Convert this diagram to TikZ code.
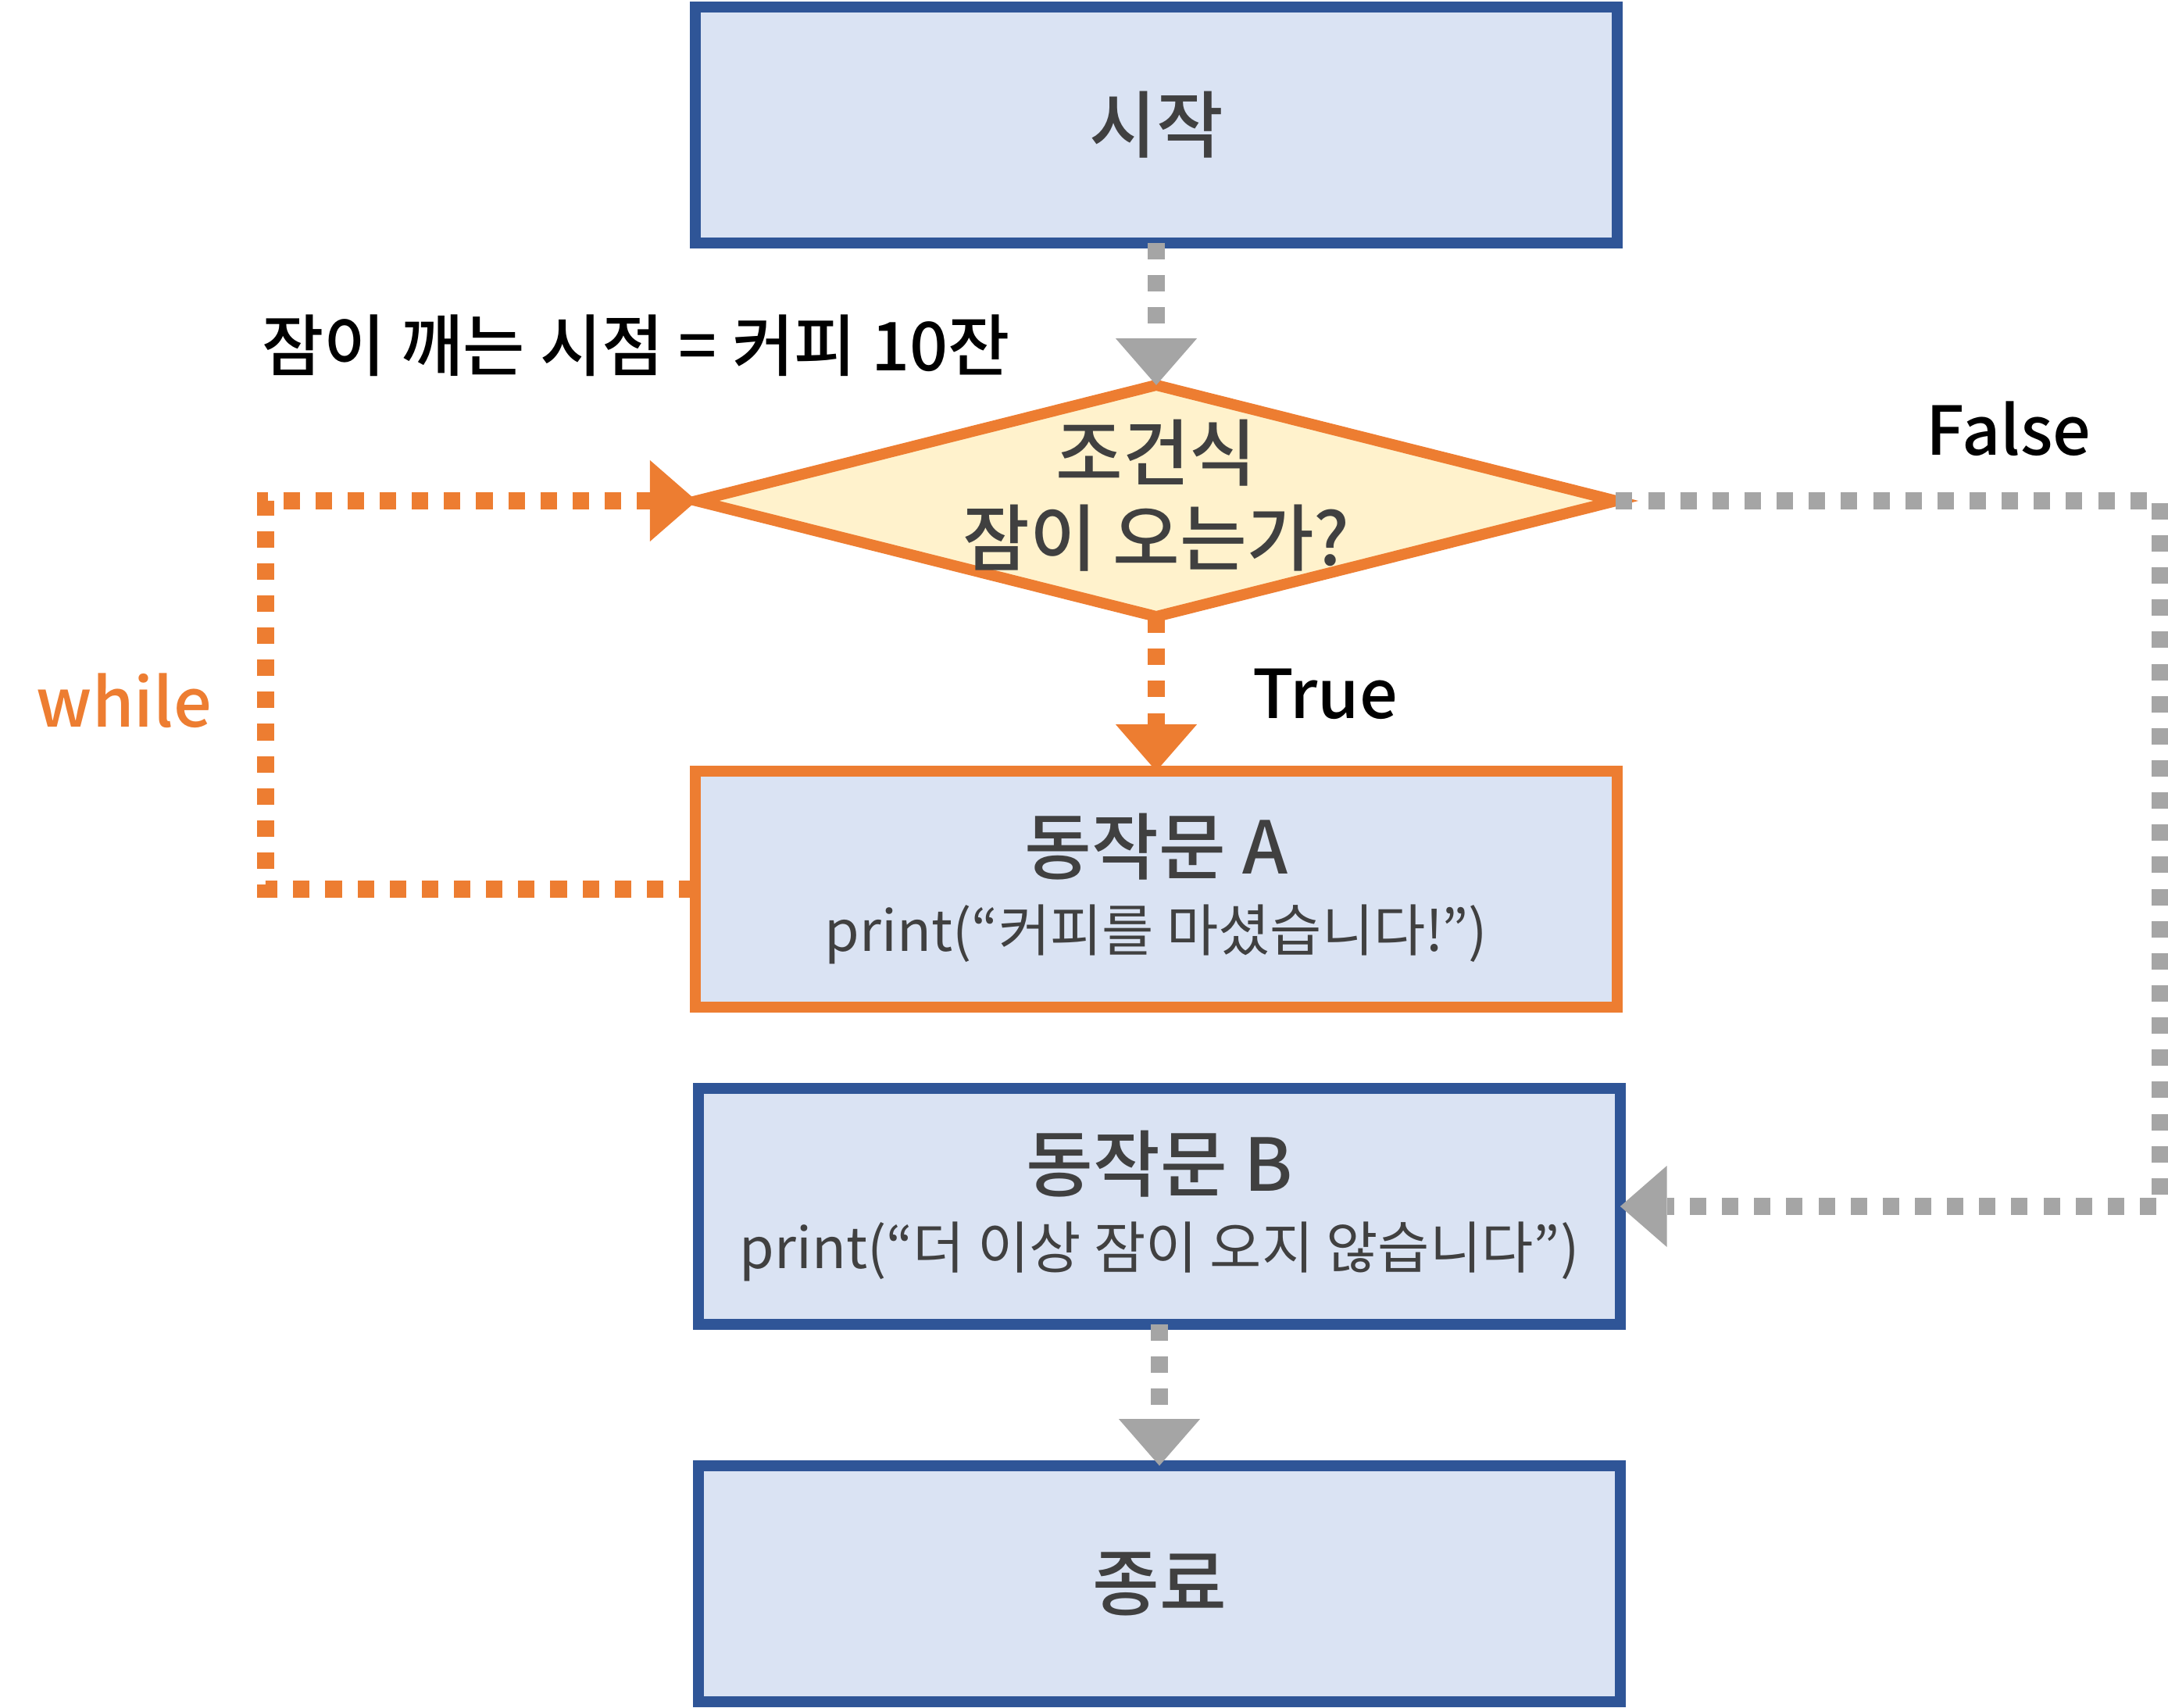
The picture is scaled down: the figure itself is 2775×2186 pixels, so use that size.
\documentclass[tikz,border=0pt]{standalone}
\usepackage{fontspec}
\setmainfont{Noto Sans CJK KR}[BoldFont={Noto Sans CJK KR Medium}]
\usetikzlibrary{shapes.geometric,arrows.meta}
\definecolor{boxblue}{HTML}{2F5597}
\definecolor{boxfill}{HTML}{DAE3F3}
\definecolor{accent}{HTML}{ED7D31}
\definecolor{condfill}{HTML}{FFF2CC}
\definecolor{flowgray}{HTML}{A5A5A5}
\definecolor{textgray}{HTML}{404040}
\newcommand{\ttlsize}{\fontsize{26.5pt}{31pt}\selectfont\bfseries}
\newcommand{\codesize}{\fontsize{20.5pt}{25pt}\selectfont}
\begin{document}
\begin{tikzpicture}[x=0.01cm,y=-0.01cm,
  box/.style={draw=boxblue,fill=boxfill,line width=4pt,minimum width=11.79cm,minimum height=3.02cm,inner sep=0pt,outer sep=0pt,align=center,text=textgray},
  titlefont/.style={font=\ttlsize},
  labelfont/.style={font=\fontsize{24.5pt}{30pt}\selectfont\bfseries,inner sep=0pt},
  flow/.style={line width=6pt,line cap=butt,dash pattern=on 6pt off 5.7pt,-{Triangle[length=17pt,width=29.6pt,line width=0pt]}},
  grayflow/.style={flow,draw=flowgray},
  orangeflow/.style={flow,draw=accent}
]
\useasboundingbox (0,0) rectangle (2775,2186);

\node[box,titlefont] (start) at (1480,160) {시작};
\node[diamond,draw=accent,fill=condfill,line width=4pt,minimum width=11.76cm,minimum height=2.96cm,aspect=3.97,inner sep=0pt,outer sep=0pt] (cond) at (1480,641) {};
\node[titlefont,text=textgray,align=center,inner sep=0pt] (condtext) at (1480,634) {조건식\\잠이 오는가?};
\node[box,draw=accent] (acta) at (1480,1138) {{\ttlsize 동작문 A}\\[8pt]{\codesize print(“커피를 마셨습니다!”)}};
\node[box] (actb) at (1484,1544) {{\ttlsize 동작문 B}\\[8pt]{\codesize print(“더 이상 잠이 오지 않습니다”)}};
\node[box,titlefont] (finish) at (1484,2027) {종료};

\node[labelfont,text=black] (sleep) at (814,442) {잠이 깨는 시점 = 커피 10잔};
\node[labelfont,text=black] (falselbl) at (2571,549) {False};
\node[labelfont,text=black] (truelbl) at (1696,888) {True};
\node[labelfont,text=accent] (whilelbl) at (159,897) {while};

\coordinate (wl1) at (340,1138);
\coordinate (wl2) at (340,641);
\coordinate (fl1) at (2765,641);
\coordinate (fl2) at (2765,1544);

\draw[grayflow] (start.south) -- (cond.north);
\draw[orangeflow] (cond.south) -- (acta.north);
\draw[orangeflow] (acta.west) -- (wl1) -- (wl2) -- (cond.west);
\draw[grayflow] (cond.east) -- (fl1) -- (fl2) -- (actb.east);
\draw[grayflow] (actb.south) -- (finish.north);
\end{tikzpicture}
\end{document}
